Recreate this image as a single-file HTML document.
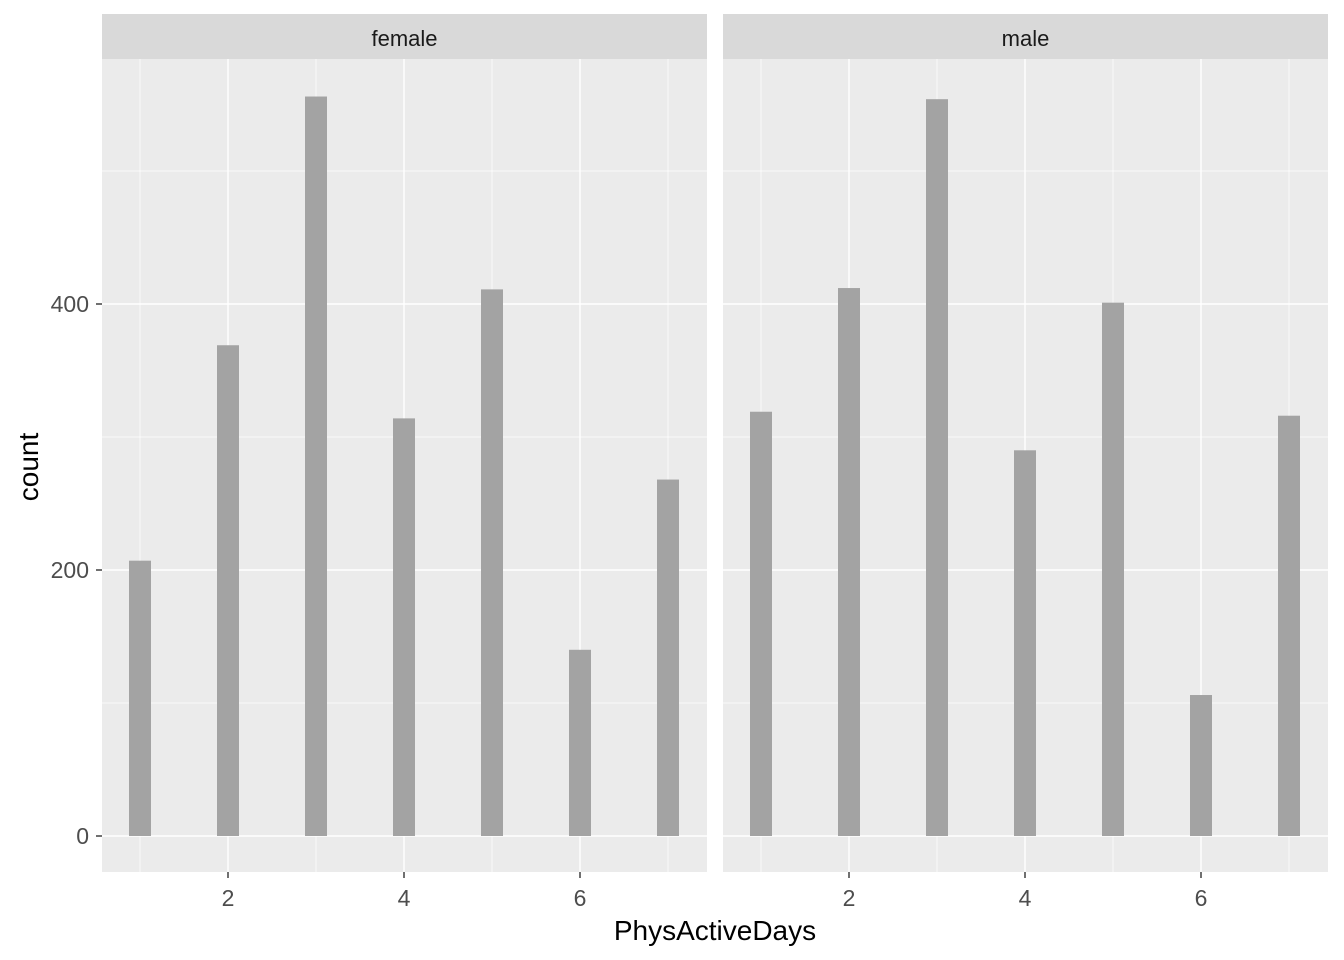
<!DOCTYPE html>
<html><head><meta charset="utf-8"><style>body{margin:0;background:#fff}svg{display:block}</style></head>
<body>
<svg id="chart" width="1344" height="960" xmlns="http://www.w3.org/2000/svg" font-family="Liberation Sans, sans-serif"></svg>
<script>
const categories = [1,2,3,4,5,6,7];
const panels = ["female","male"];
const femaleCounts = [207,369,556,314,411,140,268];
const maleCounts = [319,412,554,290,401,106,316];
const yTicks = [0,200,400];
const xTicks = [2,4,6];
const series = [femaleCounts, maleCounts];
(function(){
const NS = "http://www.w3.org/2000/svg";
const svg = document.getElementById("chart");
function mk(tag, attrs, parent){const e=document.createElementNS(NS,tag);for(const k in attrs)e.setAttribute(k,attrs[k]);(parent||svg).appendChild(e);return e;}
const plotTop=59, plotBottom=872;
const y = v => 836 - v*1.33;
const panelX = [102,723], panelW = 605;
const x = (p,v) => panelX[p] + 38 + (v-1)*88;
panels.forEach((name,p)=>{
  const g = mk("g",{});
  
  
  const bg = mk("rect",{x:panelX[p],y:plotTop,width:panelW,height:plotBottom-plotTop,fill:"#ebebeb"},g);
  
  
  [100,300,500].forEach(v=>mk("line",{x1:panelX[p],x2:panelX[p]+panelW,y1:y(v),y2:y(v),stroke:"#fff","stroke-width":0.7},g));
  [1,3,5,7].forEach(v=>mk("line",{x1:x(p,v),x2:x(p,v),y1:plotTop,y2:plotBottom,stroke:"#fff","stroke-width":0.7},g));
  yTicks.forEach(v=>mk("line",{x1:panelX[p],x2:panelX[p]+panelW,y1:y(v),y2:y(v),stroke:"#fff","stroke-width":1.4},g));
  xTicks.forEach(v=>mk("line",{x1:x(p,v),x2:x(p,v),y1:plotTop,y2:plotBottom,stroke:"#fff","stroke-width":1.4},g));
  categories.forEach((c,i)=>{
    const r = mk("rect",{x:x(p,c)-11,y:y(series[p][i]),width:22,height:y(0)-y(series[p][i]),fill:"#a3a3a3"},g);
    
    
  });
  const s = mk("rect",{x:panelX[p],y:14,width:panelW,height:45,fill:"#d9d9d9"},g);
  
  
  const st = mk("text",{x:panelX[p]+panelW/2,y:46,"text-anchor":"middle","font-size":22,fill:"#1a1a1a"},g);
  st.textContent = name;
  
  
  xTicks.forEach(v=>{
    mk("line",{x1:x(p,v),x2:x(p,v),y1:plotBottom,y2:plotBottom+6,stroke:"#333","stroke-width":1.4},g);
    const t = mk("text",{x:x(p,v),y:906,"text-anchor":"middle","font-size":23,fill:"#4d4d4d"},g);
    t.textContent = v;
    
    
  });
});
yTicks.forEach(v=>{
  mk("line",{x1:96,x2:102,y1:y(v),y2:y(v),stroke:"#333","stroke-width":1.4});
  const t = mk("text",{x:89,y:y(v)+8,"text-anchor":"end","font-size":23,fill:"#4d4d4d"});
  t.textContent = v;
  
  
});
const xt = mk("text",{x:715,y:940,"text-anchor":"middle","font-size":28,fill:"#000"});
xt.textContent = "PhysActiveDays";


const yt = mk("text",{x:38,y:467,"text-anchor":"middle","font-size":28,fill:"#000",transform:"rotate(-90 38 467)"});
yt.textContent = "count";


})();
</script>
</body></html>
